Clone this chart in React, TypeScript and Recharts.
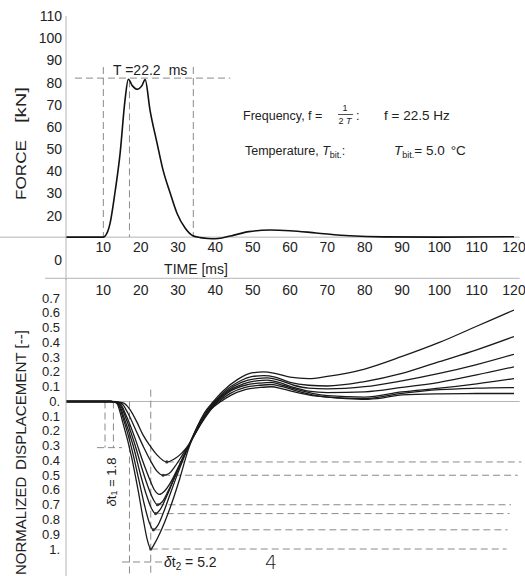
import React from 'react';
import { LineChart, Line, XAxis, YAxis, ReferenceLine, ReferenceDot } from 'recharts';

const FONT = "'Liberation Sans', Arial, Helvetica, sans-serif";
const TXT = '#222';
const AXIS = '#b4b4b4';
const DASH = '#8a8a8a';

// ---- tick values ----
const timeTicks = [10, 20, 30, 40, 50, 60, 70, 80, 90, 100, 110, 120];
const forceTicks = [0, 20, 30, 40, 50, 60, 70, 80, 90, 100, 110];
const dispTicks = [0.7, 0.6, 0.5, 0.4, 0.3, 0.2, 0.1, 0, -0.1, -0.2, -0.3, -0.4, -0.5, -0.6, -0.7, -0.8, -0.9, -1.0];

// ---- force pulse (kN) ----
const forceTime = [0, 10, 10.5, 11.8, 13.1, 14.5, 15.8, 16.7, 17.8, 19.1, 20.3, 21.2, 22.5, 24.4, 26, 27.9, 29.7, 31.9, 34, 36, 38, 40, 42, 45, 49, 54.6, 60, 67, 76, 85, 100, 120];
const forceKN = [10.3, 10.3, 10.8, 16.5, 30.2, 48.2, 72, 81.5, 78.5, 77, 78.5, 81.3, 67.6, 52.6, 40.5, 30.2, 21.2, 14.4, 10.9, 10.1, 9.7, 9.6, 10, 11.2, 12.8, 13.5, 13.2, 12.2, 10.9, 10.4, 10.3, 10.5];
const forceData = forceTime.map((t, i) => ({ t, f: forceKN[i] }));

// ---- normalized displacement curves [time ms, value] ----
const dispA = [[0, 0], [12, 0], [13.5, -0.01], [15.3, -0.15], [17.6, -0.38], [19.3, -0.6], [20.7, -0.8], [21.8, -0.94], [22.7, -1.0], [23.8, -0.96], [25.2, -0.89], [27.9, -0.72], [30.5, -0.52], [32.7, -0.33], [35, -0.18], [37, -0.08], [39.5, 0], [42, 0.07], [46, 0.15], [50, 0.195], [53, 0.2], [56, 0.19], [60, 0.165], [65, 0.155], [70, 0.17], [80, 0.22], [90, 0.305], [100, 0.4], [110, 0.51], [120, 0.62]];
const dispB = [[0, 0], [12, 0], [13.7, -0.01], [15.5, -0.13], [17.7, -0.33], [19.5, -0.53], [21, -0.7], [22.3, -0.82], [23.4, -0.87], [24.6, -0.84], [26, -0.76], [28, -0.62], [30.5, -0.45], [32.7, -0.31], [35, -0.18], [37, -0.09], [39.8, 0], [42.5, 0.07], [46, 0.13], [50, 0.17], [53, 0.175], [56, 0.165], [60, 0.13], [65, 0.11], [70, 0.105], [80, 0.135], [90, 0.19], [100, 0.27], [110, 0.35], [120, 0.44]];
const dispC = [[0, 0], [12, 0], [13.9, -0.01], [15.7, -0.12], [18, -0.3], [20, -0.5], [21.5, -0.63], [22.8, -0.72], [24, -0.76], [25.3, -0.73], [27, -0.64], [29, -0.52], [31, -0.4], [32.7, -0.31], [35, -0.19], [37, -0.1], [40, 0], [43, 0.07], [47, 0.13], [51, 0.155], [54, 0.16], [57, 0.145], [61, 0.11], [65, 0.09], [70, 0.085], [80, 0.1], [90, 0.14], [100, 0.19], [110, 0.25], [120, 0.32]];
const dispD = [[0, 0], [12, 0], [14.1, -0.01], [16, -0.11], [18.3, -0.28], [20.3, -0.45], [22, -0.58], [23.3, -0.66], [24.5, -0.7], [25.8, -0.68], [27.5, -0.6], [29.5, -0.49], [31.2, -0.39], [32.7, -0.31], [35, -0.19], [37, -0.11], [40.3, 0], [43.5, 0.07], [47.5, 0.12], [51, 0.14], [54, 0.145], [57, 0.13], [61, 0.095], [65, 0.07], [70, 0.06], [80, 0.065], [90, 0.095], [100, 0.13], [110, 0.18], [120, 0.235]];
const dispE = [[0, 0], [12, 0], [14.3, -0.01], [16.2, -0.1], [18.5, -0.25], [20.5, -0.4], [22.3, -0.52], [23.7, -0.6], [25, -0.63], [26.3, -0.61], [28, -0.55], [30, -0.45], [31.5, -0.37], [32.7, -0.31], [35, -0.2], [37, -0.11], [40.6, 0], [44, 0.07], [48, 0.11], [52, 0.125], [55, 0.13], [58, 0.11], [62, 0.08], [66, 0.055], [70, 0.04], [80, 0.03], [90, 0.065], [100, 0.09], [110, 0.12], [120, 0.155]];
const dispF = [[0, 0], [12, 0], [14.7, -0.01], [16.6, -0.08], [18.8, -0.2], [20.8, -0.31], [22.6, -0.4], [24.3, -0.47], [26, -0.5], [27.5, -0.49], [29.2, -0.44], [31, -0.37], [32.7, -0.3], [35, -0.2], [37, -0.11], [41, 0], [44, 0.055], [48, 0.095], [52, 0.11], [55, 0.115], [58, 0.1], [62, 0.07], [66, 0.045], [70, 0.03], [80, 0.02], [90, 0.055], [100, 0.08], [110, 0.09], [120, 0.094]];
const dispG = [[0, 0], [12, 0], [15.3, -0.01], [17, -0.05], [19, -0.14], [20.7, -0.23], [22.5, -0.3], [24.3, -0.36], [27, -0.41], [29, -0.39], [31, -0.35], [32.7, -0.3], [35, -0.2], [37, -0.12], [39, -0.05], [41.5, 0], [44, 0.04], [48, 0.08], [52, 0.095], [55, 0.1], [58, 0.085], [62, 0.06], [66, 0.04], [70, 0.03], [75, 0.02], [80, 0.015], [85, 0.025], [90, 0.045], [100, 0.052], [110, 0.054], [120, 0.054]];
const dispCurves = [dispA, dispB, dispC, dispD, dispE, dispF, dispG].map((c) => c.map(([t, v]) => ({ t, v })));

// trough levels marked with dashed lines: [time of trough, value, end time]
const troughMarks = [[22.7, -1.0, 118], [23.4, -0.87, 118.3], [24, -0.76, 118.8], [24.5, -0.7, 119.2], [26, -0.5, 121], [27, -0.41, 122]];

const TopYTick = (p: any) => (
  <text x={62} y={p.y} dy={5} textAnchor="end" fontSize={14} fontFamily={FONT} fill={TXT}>{p.payload.value}</text>
);
const TopXTick = (p: any) => (
  <text x={p.x} y={252} textAnchor="middle" fontSize={14} fontFamily={FONT} fill={TXT}>{p.payload.value}</text>
);
const fmtDisp = (v: number) => (Math.abs(v) < 1e-9 ? '0.' : Math.abs(Math.abs(v) - 1) < 1e-9 ? '1.' : Math.abs(v).toFixed(1));
const BotYTick = (p: any) => (
  <text x={60} y={p.y} dy={4.5} textAnchor="end" fontSize={13} fontFamily={FONT} fill={TXT}>{fmtDisp(p.payload.value)}</text>
);
const BotXTick = (p: any) => (
  <text x={p.x} y={37} textAnchor="middle" fontSize={14} fontFamily={FONT} fill={TXT}>{p.payload.value}</text>
);

const dashProps = { stroke: DASH, strokeDasharray: '7 4', strokeWidth: 1, ifOverflow: 'visible' as const };

export default function App() {
  return (
    <div style={{ position: 'absolute', left: 0, top: 0, width: 525, height: 576, background: '#fff', overflow: 'hidden' }}>
      {/* Force chart */}
      <div style={{ position: 'absolute', left: 0, top: 0 }}>
        <LineChart width={525} height={300} data={forceData} margin={{ top: 16, right: 11, bottom: 0, left: 16 }}>
          <XAxis dataKey="t" type="number" domain={[0, 120]} ticks={timeTicks} interval={0} allowDataOverflow height={20} axisLine={false} tickLine={false} tick={TopXTick} />
          <YAxis type="number" domain={[-9.02, 110]} ticks={forceTicks} interval={0} allowDataOverflow width={50} axisLine={{ stroke: AXIS }} tickLine={false} tick={TopYTick} />
          <ReferenceLine segment={[{ x: -17.7, y: 10.3 }, { x: 121.5, y: 10.3 }]} stroke={AXIS} strokeWidth={1} ifOverflow="visible" />
          <ReferenceLine segment={[{ x: 2.4, y: 82 }, { x: 44, y: 82 }]} {...dashProps} />
          <ReferenceLine segment={[{ x: 10, y: 87 }, { x: 10, y: 10.3 }]} {...dashProps} />
          <ReferenceLine segment={[{ x: 17, y: 81 }, { x: 17, y: 10.3 }]} {...dashProps} />
          <ReferenceLine segment={[{ x: 34.1, y: 87 }, { x: 34.1, y: 10.3 }]} {...dashProps} />
          <Line dataKey="f" type="monotone" stroke="#111" strokeWidth={1.6} dot={false} isAnimationActive={false} />
        </LineChart>
      </div>

      {/* Displacement chart */}
      <div style={{ position: 'absolute', left: 0, top: 258 }}>
        <LineChart width={525} height={318} margin={{ top: 0, right: 11, bottom: 0, left: 16 }}>
          <XAxis dataKey="t" type="number" orientation="top" domain={[0, 120]} ticks={timeTicks} interval={0} allowDataOverflow height={20} axisLine={false} tickLine={false} tick={BotXTick} />
          <YAxis type="number" domain={[-1.183, 0.837]} ticks={dispTicks} interval={0} allowDataOverflow width={50} axisLine={{ stroke: AXIS }} tickLine={false} tick={BotYTick} />
          <ReferenceLine segment={[{ x: -5.6, y: 0.835 }, { x: 121.5, y: 0.835 }]} stroke={AXIS} strokeWidth={1} ifOverflow="visible" />
          <ReferenceLine segment={[{ x: 0, y: 0 }, { x: 121.5, y: 0 }]} stroke={AXIS} strokeWidth={1} ifOverflow="visible" />
          {troughMarks.map(([t, v, e], i) => (
            <ReferenceLine key={'tr' + i} segment={[{ x: t, y: v }, { x: e, y: v }]} {...dashProps} />
          ))}
          <ReferenceLine segment={[{ x: 22.7, y: 0.08 }, { x: 22.7, y: -1.183 }]} {...dashProps} />
          <ReferenceLine segment={[{ x: 17, y: 0 }, { x: 17, y: -1.183 }]} {...dashProps} />
          <ReferenceLine segment={[{ x: 10.45, y: 0 }, { x: 10.45, y: -0.313 }]} {...dashProps} />
          <ReferenceLine segment={[{ x: 12.7, y: 0 }, { x: 12.7, y: -0.313 }]} {...dashProps} />
          <ReferenceLine segment={[{ x: 8.3, y: -0.313 }, { x: 15, y: -0.313 }]} {...dashProps} />
          <ReferenceLine segment={[{ x: 15, y: -1.088 }, { x: 25.8, y: -1.088 }]} {...dashProps} />
          {dispCurves.map((c, i) => (
            <Line key={'c' + i} data={c} dataKey="v" type="monotone" stroke="#1a1a1a" strokeWidth={1.3} dot={false} isAnimationActive={false} />
          ))}
          {troughMarks.map(([t, v], i) => (
            <ReferenceDot key={'td' + i} x={t} y={v} r={1.6} fill="#333" stroke="none" ifOverflow="visible" />
          ))}
        </LineChart>
      </div>

      {/* Text annotations */}
      <svg width={525} height={576} style={{ position: 'absolute', left: 0, top: 0, pointerEvents: 'none' }} fontFamily={FONT} fill={TXT}>
        <text x={113} y={75} fontSize={14}>T =22.2<tspan dx={8}>ms</tspan></text>

        <text x={243} y={119.5} fontSize={12.5}>Frequency, f =</text>
        <text x={345} y={111} fontSize={9} textAnchor="middle">1</text>
        <line x1={338} y1={114.5} x2={353} y2={114.5} stroke={TXT} strokeWidth={0.8} />
        <text x={345} y={123.5} fontSize={9} textAnchor="middle">2 <tspan fontStyle="italic">T</tspan></text>
        <text x={356} y={119.5} fontSize={12.5}>:</text>
        <text x={384} y={119.5} fontSize={13.5}>f = 22.5 Hz</text>

        <text x={245} y={154.5} fontSize={12.5}>Temperature, <tspan fontStyle="italic">T</tspan><tspan fontSize={9} dy={3}>bit.</tspan><tspan dy={-3}>:</tspan></text>
        <text x={394} y={154.5} fontSize={13.5}><tspan fontStyle="italic">T</tspan><tspan fontSize={9} dy={3}>bit.</tspan><tspan dy={-3}>= 5.0</tspan><tspan dx={6}>°C</tspan></text>

        <text x={196} y={274} fontSize={14} textAnchor="middle">TIME [ms]</text>

        <text transform="rotate(-90 20 200)" x={20} y={200} fontSize={15.5} dominantBaseline="central" textLength={60} lengthAdjust="spacingAndGlyphs">FORCE</text>
        <text transform="rotate(-90 20 123)" x={20} y={123} fontSize={15.5} dominantBaseline="central" textLength={36} lengthAdjust="spacingAndGlyphs">[kN]</text>

        <text transform="rotate(-90 20 575)" x={20} y={575} fontSize={15} dominantBaseline="central">NORMALIZED</text>
        <text transform="rotate(-90 20 470)" x={20} y={470} fontSize={15} dominantBaseline="central" textLength={140} lengthAdjust="spacingAndGlyphs">DISPLACEMENT [--]</text>

        <text transform="rotate(-90 111 482)" x={111} y={482} fontSize={13} textAnchor="middle" dominantBaseline="central"><tspan fontStyle="italic">δ</tspan>t<tspan fontSize={9} dy={3}>1</tspan><tspan dy={-3}> = 1.8</tspan></text>
        <text x={164} y={567} fontSize={14}><tspan fontStyle="italic">δ</tspan>t<tspan fontSize={10} dy={3}>2</tspan><tspan dy={-3}> = 5.2</tspan></text>

        <text x={265} y={569} fontSize={19} fontFamily="'DejaVu Sans', sans-serif" fontWeight={200}>4</text>
      </svg>
    </div>
  );
}
